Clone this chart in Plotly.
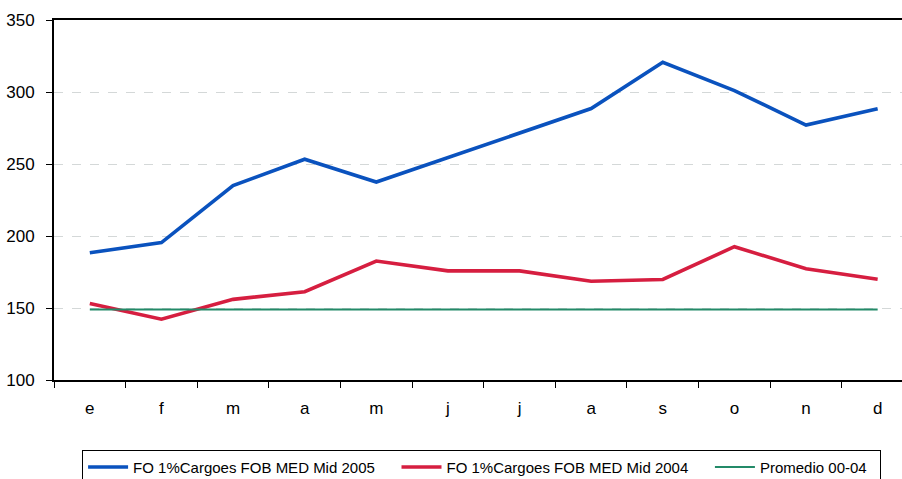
import plotly.graph_objects as go

months = ["e", "f", "m", "a", "m", "j", "j", "a", "s", "o", "n", "d"]
cats = [f"{i}" for i in range(len(months))]
fo_2005 = [188.4, 195.4, 235.0, 253.3, 237.5, 254.7, 271.3, 288.5, 320.6, 301.0, 277.0, 288.3]
fo_2004 = [153.2, 142.2, 156.0, 161.3, 182.6, 175.8, 175.8, 168.6, 169.8, 192.6, 177.3, 170.0]
promedio = [149.0] * 12

names = ["FO 1%Cargoes FOB MED Mid 2005", "FO 1%Cargoes FOB MED Mid 2004", "Promedio 00-04"]
pads = ["\u00a0" * 4, "\u00a0" * 4, "\u00a0" * 2]
colors = ["#0A52BE", "#D61E40", "#238A68"]
widths = [3.6, 3.6, 2]

fig = go.Figure()
for ys, nm, pd_, c, w in zip([fo_2005, fo_2004, promedio], names, pads, colors, widths):
    fig.add_trace(go.Scatter(x=cats, y=ys, mode="lines", name=nm + pd_,
                             line=dict(color=c, width=w)))

fig.update_layout(
    width=902, height=479,
    margin=dict(l=54, r=0, t=20, b=99),
    paper_bgcolor="white", plot_bgcolor="white",
    font=dict(family="Liberation Sans, Arial", color="black"),
    showlegend=True,
    legend=dict(orientation="h", xref="container", yref="container",
                x=0.091, xanchor="left", y=0.061, yanchor="top",
                bordercolor="black", borderwidth=1,
                font=dict(size=15), itemwidth=40, tracegroupgap=0),
)
fig.update_xaxes(
    type="category", tickmode="array", tickvals=cats, ticktext=months,
    range=[-0.5, 11.34], tickson="boundaries", ticks="outside", ticklen=6,
    tickcolor="black", showline=True, linecolor="black", linewidth=2,
    mirror=True, showgrid=False, tickfont=dict(size=17), ticklabelstandoff=12,
    automargin=False,
)
fig.update_yaxes(
    range=[100, 350], tickvals=[100, 150, 200, 250, 300, 350],
    ticks="outside", ticklen=6, tickcolor="black",
    showline=True, linecolor="black", linewidth=2,
    showgrid=True, gridcolor="#D4D8D8", griddash="dash", gridwidth=1,
    zeroline=False, tickfont=dict(size=17), ticklabelstandoff=8,
    automargin=False,
)
fig.write_html("out.html", config={"displayModeBar": False},
               post_script="document.body.style.margin='0';document.body.style.overflow='hidden';")
